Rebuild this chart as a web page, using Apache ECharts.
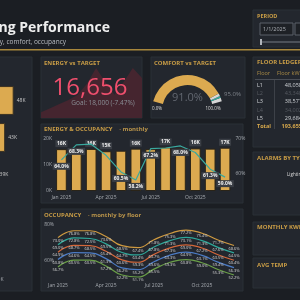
<!DOCTYPE html>
<html>
<head>
<meta charset="utf-8">
<script src="https://cdn.jsdelivr.net/npm/echarts@6/dist/echarts.min.js"></script>
<style>
html,body{margin:0;padding:0;background:#1b1e23;overflow:hidden;}
#chart{width:300px;height:300px;}
</style>
</head>
<body>
<div id="chart"></div>
<script>
const months = ['Jan 2025','Feb 2025','Mar 2025','Apr 2025','May 2025','Jun 2025','Jul 2025','Aug 2025','Sep 2025','Oct 2025','Nov 2025','Dec 2025'];
const energyKwh = [16100,15599,16200,15300,15500,16300,16100,16800,16400,16400,16300,16656];
const energyLabelMonths = [0,2,3,5,7,9,11];
const occupancyPct = [64.0,68.3,68.5,65.3,60.5,58.2,67.2,67.4,68.0,66.1,61.3,59.0];
const occupancyLabelMonths = [0,1,4,5,6,8,10,11];

const floors = ['L1','L2','L3','L4','L5'];
const floorKwh = [48058,43340,38571,34002,29684];
const occL1 = [73.0,76.8,76.8,73.6,68.5,67.4,71.8,75.3,77.2,75.4,71.7,68.6];
const occL2 = [69.0,72.8,72.5,69.5,64.7,63.4,67.8,71.3,73.1,71.3,67.6,64.5];
const occL3 = [64.9,68.7,68.5,65.4,60.6,59.3,63.7,67.3,69.0,67.2,63.5,60.4];
const occL4 = [60.8,64.6,64.5,61.3,56.2,55.2,59.6,63.3,64.9,63.1,59.4,56.3];
const occL5 = [56.7,60.5,60.5,57.2,52.2,51.1,55.5,59.3,60.8,59.0,55.3,52.2];

const sparkKwh = [10,17,24,31,40,59,86,62,40,62,86,69];
const energyActual = 16656;
const energyGoal = 18000;
const comfortPct = 91.0;
const comfortTarget = 95.0;
const periodStart = '1/1/2025';
const alarmTypes = ['Lighting'];

const FF = '"Open Sans", "Noto Sans", sans-serif';
const gold = '#dcaa50';
const titleGold = '#c99d46';
const floorColors = ['#cf9a40','#2fa89a','#d4673a','#4c7bc4','#6a9f48'];

function panel(x, y, w, h) {
    return { type:'rect', z:0, silent:true, shape:{ x:x, y:y, width:w, height:h },
        style:{ fill:'#23272e', stroke:'#2b3037', lineWidth:1 } };
}
function txt(x, y, text, size, color, weight, align) {
    return { type:'text', x:x, y:y, z:10, silent:true,
        style:{ text:text, fontSize:size, fontWeight:weight || 'normal', fontFamily:FF,
            fill:color, align:align || 'left', verticalAlign:'middle' } };
}

const chart = echarts.init(document.getElementById('chart'));

let graphics = [
    panel(-10,57,42,234),
    panel(41,57,101,61),
    panel(151,57,94,61),
    panel(253,57,50,90),
    panel(41,124,202,79),
    panel(41,209,202,82),
    panel(253,152,50,63),
    panel(253,222,50,33),
    panel(253,258,50,30),
    panel(253,10,50,37),
    { type:'rect', z:1, silent:true, shape:{ x:0, y:49, width:300, height:1.5 }, style:{ fill:'#a8873c' } },
    txt(110,28,'Building Performance',14,'#eeeeee','bold','right'),
    txt(66,42,'Energy, comfort, occupancy',6.5,'#b8bcc2','normal','right'),
    txt(257,16,'PERIOD',5.5,titleGold,'bold'),
    { type:'rect', z:1, silent:true, shape:{ x:260, y:23, width:33, height:12 }, style:{ fill:'#1e2126', stroke:'#5b6068', lineWidth:1 } },
    { type:'rect', z:1, silent:true, shape:{ x:295, y:23, width:10, height:12 }, style:{ fill:'#1e2126', stroke:'#5b6068', lineWidth:1 } },
    txt(263,29,periodStart,5.5,'#aeb2b8'),
    { type:'line', z:1, silent:true, shape:{ x1:260, y1:42, x2:300, y2:42 }, style:{ stroke:'#5b6068', lineWidth:1.5 } },
    { type:'rect', z:2, silent:true, shape:{ x:260, y:39, width:2, height:6 }, style:{ fill:'#b0b4ba' } },

    txt(44,63,'ENERGY vs TARGET',6,titleGold,'bold'),
    txt(90,88,energyActual.toLocaleString('en-US'),24,'#ef4f6d','normal','center'),
    txt(103,103,'Goal: ' + energyGoal.toLocaleString('en-US') + ' (' + ((energyActual - energyGoal) / energyGoal * 100).toFixed(2) + '%)',6.5,'#8a8f96','normal','center'),

    txt(154,63,'COMFORT vs TARGET',6,titleGold,'bold'),
    txt(187.5,98,comfortPct.toFixed(1) + '%',11,'#626770','normal','center'),
    txt(157,109,'0.0%',4.5,'#dddddd','normal','center'),
    txt(213,109,'100.0%',4.5,'#dddddd','normal','center'),
    txt(232.5,94.5,comfortTarget.toFixed(1) + '%',6,'#7f848b','normal','center'),

    txt(257,62,'FLOOR LEDGER',6,titleGold,'bold'),
    txt(257,73,'Floor',5.5,'#a88a45'),
    txt(277,73,'Floor kWh',5.5,'#a88a45'),
    { type:'line', z:1, silent:true, shape:{ x1:255, y1:79.5, x2:300, y2:79.5 }, style:{ stroke:'#4a4e55', lineWidth:1 } },
    { type:'line', z:1, silent:true, shape:{ x1:274.5, y1:80, x2:274.5, y2:129 }, style:{ stroke:'#3d4148', lineWidth:1 } },

    { type:'text', x:44, y:129, z:10, silent:true, style:{ text:'{a|ENERGY & OCCUPANCY}  {b|· monthly}', verticalAlign:'middle',
        rich:{ a:{ fontSize:6, fontWeight:'bold', fill:titleGold, fontFamily:FF }, b:{ fontSize:6, fontWeight:'bold', fill:'#b8934a', fontFamily:FF } } } },
    { type:'text', x:44, y:215, z:10, silent:true, style:{ text:'{a|OCCUPANCY}  {b|· monthly by floor}', verticalAlign:'middle',
        rich:{ a:{ fontSize:6, fontWeight:'bold', fill:titleGold, fontFamily:FF }, b:{ fontSize:6, fontWeight:'bold', fill:'#b8934a', fontFamily:FF } } } },

    txt(257,158,'ALARMS BY TYPE',6,titleGold,'bold'),
    txt(287,175,alarmTypes[0],4.5,'#dddddd'),
    txt(257,227,'MONTHLY KWH',6,titleGold,'bold'),
    txt(257,265,'AVG TEMP',6,titleGold,'bold')
];

// ledger rows
const rowY = [85,93.3,101.6,110,118.3];
floors.forEach((f, i) => {
    const dim = i % 2 === 1;
    const c = dim ? '#565a61' : '#cfd2d6';
    graphics.push(txt(257,rowY[i],f,5.5,c));
    graphics.push(txt(302,rowY[i],floorKwh[i].toLocaleString('en-US'),5.5,c,'normal','right'));
});
const totalKwh = floorKwh.reduce((a, b) => a + b, 0);
graphics.push(txt(257,126,'Total',5.5,'#d6a84c','bold'));
graphics.push(txt(302,126,totalKwh.toLocaleString('en-US'),5.5,'#d6a84c','bold','right'));

const axisLbl = { color:'#a6aab0', fontSize:5, fontFamily:FF };
const boxLbl = { show:true, fontSize:5, fontWeight:'bold', color:'#eeeeee', backgroundColor:'#3a3e45', padding:[1,1.5], fontFamily:FF };

function floorLine(name, data, idx) {
    return {
        type:'line', name:name, xAxisIndex:3, yAxisIndex:4, data:data, smooth:true,
        symbol:'circle', symbolSize:0.01, showSymbol:true,
        lineStyle:{ width:1.2, color:floorColors[idx] }, itemStyle:{ color:floorColors[idx] },
        label:{ show:true, fontSize:4, color:'#d6d6d6', fontFamily:FF, formatter:p => p.value.toFixed(1) + '%', position:'bottom', distance:1 },
        labelLayout:{ hideOverlap:true }
    };
}

const energyBars = energyKwh.map((v, i) => ({ value:v, label:{ show:energyLabelMonths.indexOf(i) >= 0 } }));
const occupancyPts = occupancyPct.map((v, i) => ({ value:v, label:{ show:occupancyLabelMonths.indexOf(i) >= 0 } }));

const option = {
    backgroundColor:'#1b1e23',
    animation:false,
    textStyle:{ fontFamily:FF },
    graphic:graphics,
    grid:[
        { left:-73, top:82, width:101, height:185, outerBoundsMode:'none' },
        { left:41, top:60, width:101, height:58, outerBoundsMode:'none' },
        { left:54, top:139, width:178.5, height:52, outerBoundsMode:'none' },
        { left:58, top:225, width:176, height:54, outerBoundsMode:'none' }
    ],
    xAxis:[
        { type:'value', gridIndex:0, min:0, max:56000, interval:20000,
          axisLabel:Object.assign({}, axisLbl, { margin:10, showMaxLabel:false, formatter:v => v / 1000 + 'K' }),
          axisLine:{ show:false }, axisTick:{ show:false }, splitLine:{ show:false } },
        { type:'category', gridIndex:1, data:months, boundaryGap:false, show:false },
        { type:'category', gridIndex:2, data:months,
          axisLabel:Object.assign({}, axisLbl, { interval:2, margin:4 }),
          axisLine:{ show:false }, axisTick:{ show:false } },
        { type:'category', gridIndex:3, data:months, boundaryGap:false,
          axisLabel:Object.assign({}, axisLbl, { interval:2, margin:4 }),
          axisLine:{ show:false }, axisTick:{ show:false } }
    ],
    yAxis:[
        { type:'category', gridIndex:0, data:floors, inverse:true, show:false },
        { type:'value', gridIndex:1, min:0, max:100, show:false },
        { type:'value', gridIndex:2, min:0, max:20000, interval:10000,
          axisLabel:Object.assign({}, axisLbl, { margin:2, formatter:v => v / 1000 + 'K' }),
          axisLine:{ show:false }, axisTick:{ show:false }, splitLine:{ show:false } },
        { type:'value', gridIndex:2, position:'right', min:55, max:70, interval:5,
          axisLabel:Object.assign({}, axisLbl, { margin:3, formatter:v => (v % 10 === 0 ? v + '%' : '') }),
          axisLine:{ show:false }, axisTick:{ show:false }, splitLine:{ show:false } },
        { type:'value', gridIndex:3, min:50, max:80, interval:10,
          axisLabel:Object.assign({}, axisLbl, { margin:4, formatter:v => (v % 20 === 0 ? v + '%' : '') }),
          axisLine:{ show:false }, axisTick:{ show:false }, splitLine:{ show:false } }
    ],
    series:[
        { type:'bar', xAxisIndex:0, yAxisIndex:0, data:floorKwh, barCategoryGap:'22%',
          itemStyle:{ color:gold, borderColor:'#3a3122', borderWidth:1 },
          label:{ show:true, position:'right', distance:3, fontSize:5, color:'#c8c8c8', fontFamily:FF,
                  formatter:p => Math.round(p.value / 1000) + 'K' } },
        { type:'line', xAxisIndex:1, yAxisIndex:1, data:sparkKwh, symbol:'none',
          lineStyle:{ width:0 }, areaStyle:{ color:'#45252f', opacity:1 } },
        { type:'bar', xAxisIndex:2, yAxisIndex:2, data:energyBars, barCategoryGap:'28%',
          itemStyle:{ color:gold, borderColor:'#2a2418', borderWidth:1 },
          label:Object.assign({}, boxLbl, { position:'top', distance:2, formatter:p => Math.round(p.value / 1000) + 'K' }) },
        { type:'line', xAxisIndex:2, yAxisIndex:3, data:occupancyPts, z:5,
          symbol:'circle', symbolSize:0.01, showSymbol:true,
          lineStyle:{ width:1.2, color:'#3aa99f' }, itemStyle:{ color:'#3aa99f' },
          label:Object.assign({}, boxLbl, { position:'bottom', distance:3, formatter:p => p.value.toFixed(1) + '%' }) },
        floorLine('L1', occL1, 0),
        floorLine('L2', occL2, 1),
        floorLine('L3', occL3, 2),
        floorLine('L4', occL4, 3),
        floorLine('L5', occL5, 4),
        { type:'gauge', center:[187.5,110.5], radius:35.5, startAngle:165, endAngle:15, min:0, max:100,
          axisLine:{ lineStyle:{ width:10, color:[
              [comfortPct / 100, gold],
              [(comfortTarget - 1) / 100, '#d6d6d6'],
              [(comfortTarget + 1) / 100, '#36a89b'],
              [1, '#d6d6d6']] } },
          splitLine:{ show:false }, axisTick:{ show:false }, axisLabel:{ show:false },
          pointer:{ show:false }, anchor:{ show:false }, title:{ show:false }, detail:{ show:false },
          data:[{ value:comfortPct }] }
    ]
};
chart.setOption(option);
</script>
</body>
</html>
